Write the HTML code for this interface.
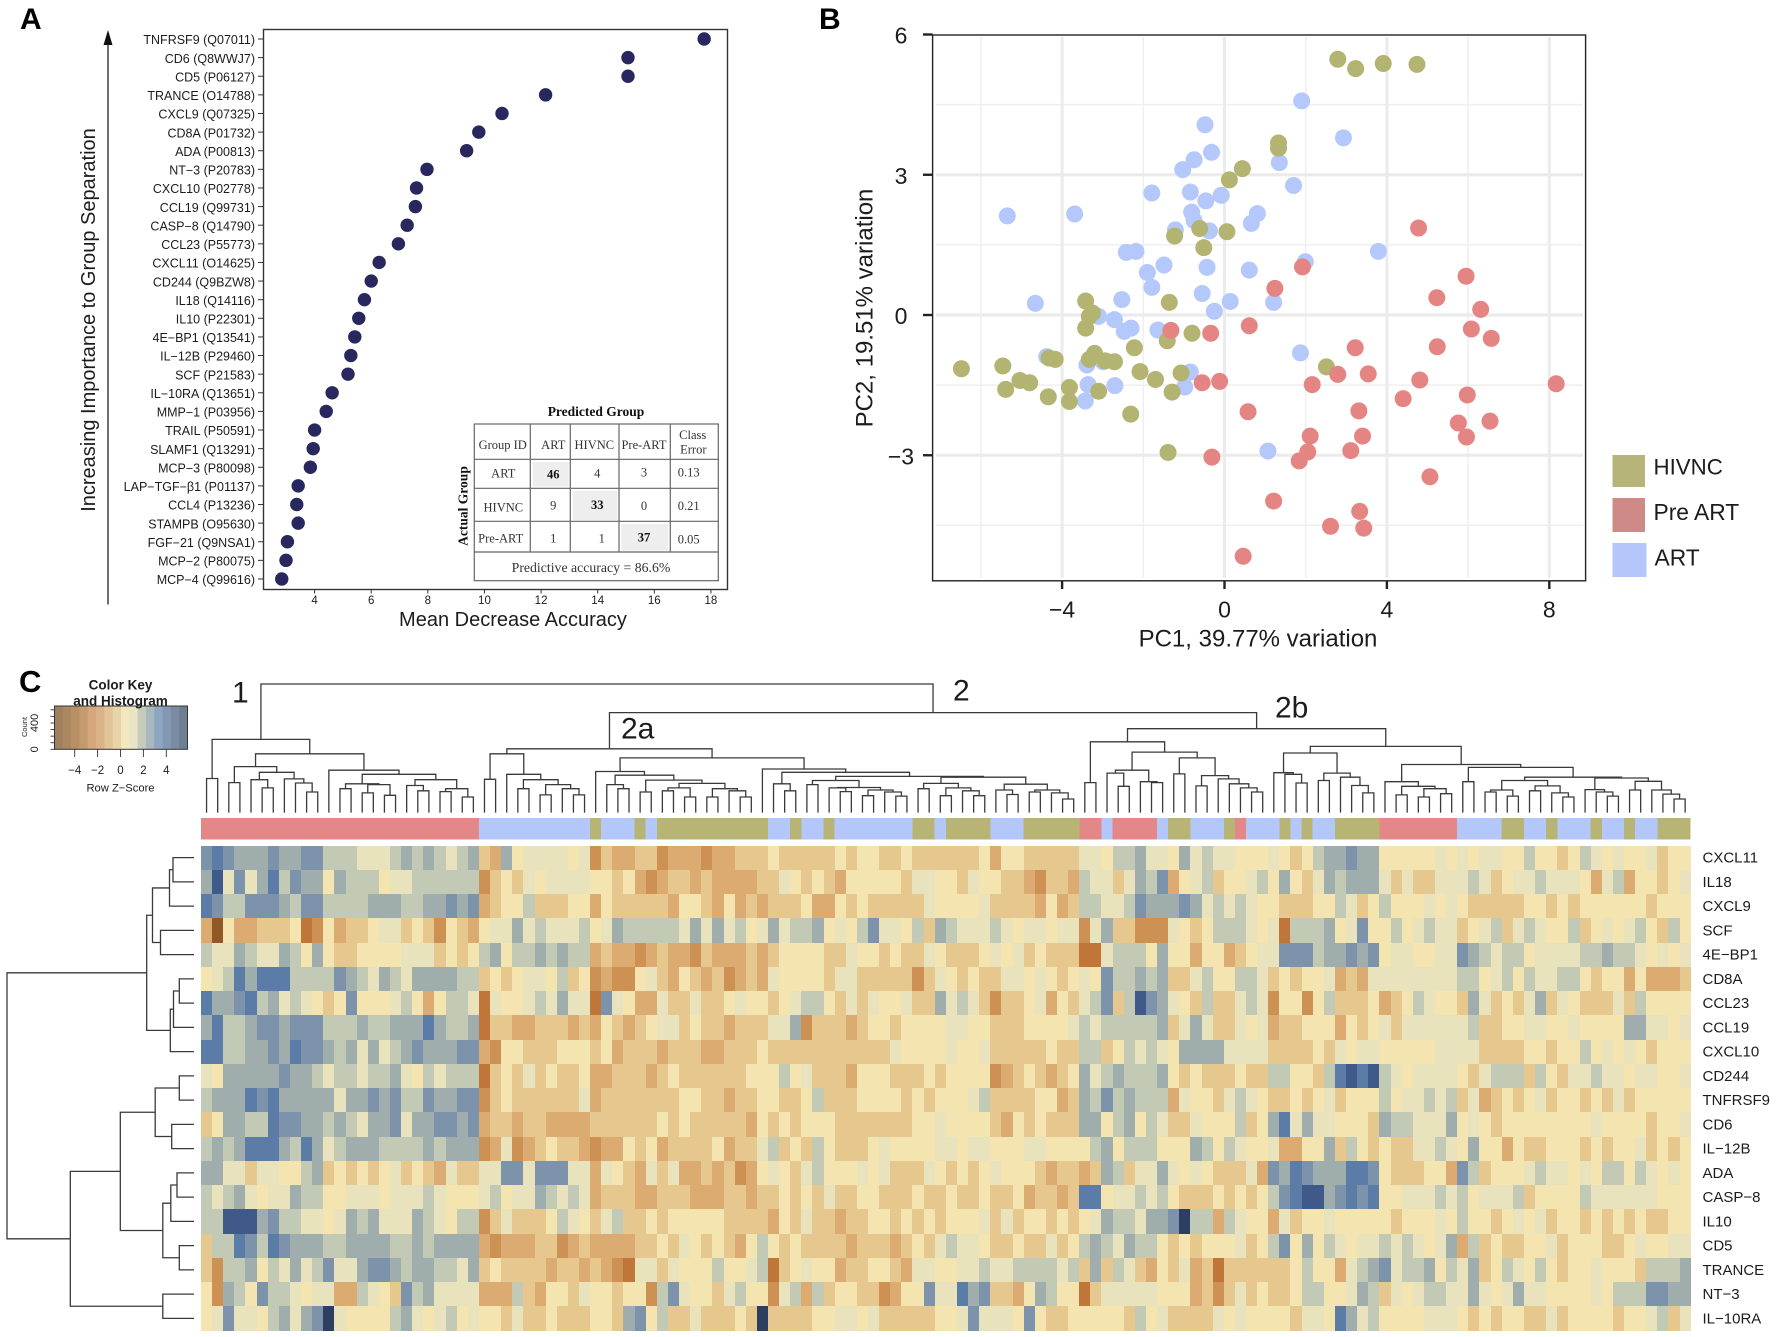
<!DOCTYPE html>
<html lang="en">
<head>
<meta charset="utf-8">
<title>Plasma proteomics: importance, PCA and heatmap</title>
<style>
html,body{margin:0;padding:0;background:#fff;width:1776px;height:1337px;overflow:hidden}
svg{display:block;position:absolute;left:0;top:0}
text{font-family:"Liberation Sans",sans-serif;fill:#1c1c1c}
.serif{font-family:"Liberation Serif",serif;fill:#333;font-size:12.5px;text-anchor:middle;dominant-baseline:central}
.serifb{font-family:"Liberation Serif",serif;fill:#111;font-weight:bold;font-size:13.5px;text-anchor:middle;dominant-baseline:central}
.panel{font-weight:bold;fill:#000}
.tl{stroke:#666;stroke-width:1.2;fill:none}
</style>
</head>
<body>
<svg id="figure" xmlns="http://www.w3.org/2000/svg" width="1776" height="1337" viewBox="0 0 1776 1337">
  <rect x="0" y="0" width="1776" height="1337" fill="#fff"/>

  <!-- Panel A -->
  <g id="panelA">
    <text class="panel" x="20" y="29" font-size="30">A</text>
    <line x1="108" y1="604.5" x2="108" y2="40" stroke="#222" stroke-width="1.3"/>
    <polygon points="108,30 103.5,45 112.5,45" fill="#111"/>
    <text transform="translate(89,320) rotate(-90)" text-anchor="middle" dominant-baseline="central" font-size="20">Increasing Importance to Group Separation</text>
    <text x="513" y="620" text-anchor="middle" dominant-baseline="central" font-size="20">Mean Decrease Accuracy</text>
    <rect x="263.5" y="29.5" width="464" height="560" fill="none" stroke="#333" stroke-width="1.4"/>
    <g id="aTicks"></g>
    <g id="aDots"></g>

    <g>
      <text class="serifb" x="596" y="411.7">Predicted Group</text>
      <text class="serifb" font-size="12.5" transform="translate(463,506) rotate(-90)">Actual Group</text>
      <rect x="532.7" y="462" width="36" height="24.7" fill="#eeeeee"/>
      <rect x="572.7" y="490.7" width="44.6" height="29.3" fill="#eeeeee"/>
      <rect x="621.3" y="524" width="47" height="26.7" fill="#eeeeee"/>
      <rect class="tl" x="474.3" y="424" width="244" height="156.7"/>
      <path class="tl" d="M474.3 459.3H718.3M474.3 488.3H718.3M474.3 521.3H718.3M474.3 552H718.3M530.3 424V552M570.3 424V552M619 424V552M670.3 424V552"/>
      <text class="serif" x="502.7" y="445">Group ID</text>
      <text class="serif" x="553.3" y="445">ART</text>
      <text class="serif" x="594.3" y="445">HIVNC</text>
      <text class="serif" x="644" y="445">Pre-ART</text>
      <text class="serif" x="692.7" y="435">Class</text>
      <text class="serif" x="693.3" y="449.3">Error</text>
      <text class="serif" x="503.3" y="473.3">ART</text>
      <text class="serif" x="553.3" y="474.3" font-weight="bold" style="fill:#111">46</text>
      <text class="serif" x="597.3" y="473.3">4</text>
      <text class="serif" x="644" y="472.3">3</text>
      <text class="serif" x="688.7" y="472.3">0.13</text>
      <text class="serif" x="503.3" y="507.3">HIVNC</text>
      <text class="serif" x="553.3" y="505.7">9</text>
      <text class="serif" x="597.3" y="505" font-weight="bold" style="fill:#111">33</text>
      <text class="serif" x="644" y="506">0</text>
      <text class="serif" x="688.7" y="506">0.21</text>
      <text class="serif" x="500.7" y="538.3">Pre-ART</text>
      <text class="serif" x="553.3" y="538.3">1</text>
      <text class="serif" x="601.7" y="538.3">1</text>
      <text class="serif" x="644" y="537.3" font-weight="bold" style="fill:#111">37</text>
      <text class="serif" x="688.7" y="539.3">0.05</text>
      <text class="serif" x="591" y="567.3" style="font-size:13.8px">Predictive accuracy = 86.6%</text>
    </g>
  </g>

  <!-- Panel B -->
  <g id="panelB">
    <text class="panel" x="819" y="29" font-size="30">B</text>
    <g id="bGrid"></g>
    <g id="bDots"></g>
    <rect x="932.6" y="35" width="653" height="545.8" fill="none" stroke="#222" stroke-width="1.4"/>
    <g id="bAxes"></g>
    <text x="1258" y="639" text-anchor="middle" dominant-baseline="central" font-size="24">PC1, 39.77% variation</text>
    <text transform="translate(865,308) rotate(-90)" text-anchor="middle" dominant-baseline="central" font-size="24">PC2, 19.51% variation</text>
    <g>
      <rect x="1612.5" y="455" width="32.5" height="32" fill="#b6b478"/>
      <text x="1653.5" y="467" dominant-baseline="central" font-size="22.3">HIVNC</text>
      <rect x="1612.5" y="498" width="32.5" height="34" fill="#cf8a87"/>
      <text x="1653.5" y="512" dominant-baseline="central" font-size="22.8">Pre ART</text>
      <rect x="1612.5" y="543" width="34" height="34" fill="#b5c6fa"/>
      <text x="1654.5" y="557.7" dominant-baseline="central" font-size="22.8">ART</text>
    </g>
  </g>

  <!-- Panel C -->
  <g id="panelC">
    <text class="panel" x="19" y="692" font-size="31">C</text>
    <g>
      <g id="keyStrips"></g>
      <rect x="54.5" y="706" width="133" height="43.3" fill="none" stroke="#333" stroke-width="1"/>
      <g id="keyAxes"></g>
      <text x="120.5" y="685" text-anchor="middle" dominant-baseline="central" font-size="13.5" font-weight="bold">Color Key</text>
      <text x="120.5" y="701" text-anchor="middle" dominant-baseline="central" font-size="13.5" font-weight="bold">and Histogram</text>
      <text transform="translate(24.5,727) rotate(-90)" text-anchor="middle" dominant-baseline="central" font-size="7.5">Count</text>
      <text x="120.5" y="788.7" text-anchor="middle" dominant-baseline="central" font-size="11.2">Row Z−Score</text>
    </g>
    <g id="topTree"></g>
    <g id="sideTree"></g>
    <g id="annot" shape-rendering="crispEdges"></g>
    <g id="heat" shape-rendering="crispEdges"></g>
    <g id="rowLabels"></g>
    <text x="232" y="693" dominant-baseline="central" font-size="30">1</text>
    <text x="953" y="691" dominant-baseline="central" font-size="30">2</text>
    <text x="621" y="729" dominant-baseline="central" font-size="30">2a</text>
    <text x="1275" y="708" dominant-baseline="central" font-size="30">2b</text>
  </g>
</svg>

<script>
/* ---------- Panel A data ---------- */
var proteinLabels = ["TNFRSF9 (Q07011)","CD6 (Q8WWJ7)","CD5 (P06127)","TRANCE (O14788)","CXCL9 (Q07325)","CD8A (P01732)","ADA (P00813)","NT−3 (P20783)","CXCL10 (P02778)","CCL19 (Q99731)","CASP−8 (Q14790)","CCL23 (P55773)","CXCL11 (O14625)","CD244 (Q9BZW8)","IL18 (Q14116)","IL10 (P22301)","4E−BP1 (Q13541)","IL−12B (P29460)","SCF (P21583)","IL−10RA (Q13651)","MMP−1 (P03956)","TRAIL (P50591)","SLAMF1 (Q13291)","MCP−3 (P80098)","LAP−TGF−β1 (P01137)","CCL4 (P13236)","STAMPB (O95630)","FGF−21 (Q9NSA1)","MCP−2 (P80075)","MCP−4 (Q99616)"];
var meanDecreaseAccuracy = [17.76,15.07,15.07,12.16,10.62,9.8,9.37,7.97,7.6,7.56,7.27,6.96,6.28,6.0,5.76,5.56,5.42,5.28,5.18,4.62,4.41,4.0,3.95,3.85,3.42,3.37,3.42,3.04,2.99,2.84];
var accuracyTicks = [4,6,8,10,12,14,16,18];

/* ---------- Panel B data ---------- */
var hivncPC1 = [2.79,3.23,3.91,4.74,1.33,1.33,0.44,0.12,-0.61,-1.23,0.06,-0.51,-1.36,-3.42,-3.25,-3.33,-3.42,-0.80,-1.41,-2.22,-3.20,-3.33,-4.32,-4.17,-2.94,-2.71,2.51,-6.48,-5.46,-5.04,-4.80,-5.39,-4.34,-3.82,-3.82,-3.10,-2.08,-1.70,-1.07,-1.29,-2.31,-1.39];
var hivncPC2 = [5.47,5.27,5.38,5.36,3.68,3.57,3.13,2.89,1.85,1.69,1.78,1.44,0.27,0.30,0.04,-0.03,-0.28,-0.39,-0.55,-0.70,-0.82,-0.95,-0.92,-0.95,-0.98,-1.00,-1.11,-1.15,-1.09,-1.40,-1.45,-1.59,-1.75,-1.55,-1.85,-1.63,-1.21,-1.38,-1.24,-1.65,-2.12,-2.94];
var artPC1 = [1.90,-0.48,2.93,-0.32,-0.75,-1.03,1.35,1.70,-1.79,-0.84,-0.46,-0.08,-5.35,-3.69,-0.81,-0.75,0.81,0.66,-0.37,-1.21,-2.42,-2.18,-1.49,-1.90,-0.43,0.61,1.99,3.79,-1.79,-4.66,-2.53,-0.55,0.14,1.21,-0.25,-3.10,-2.71,-2.30,-2.47,-1.64,1.87,-4.38,-3.39,-2.99,-0.84,-3.36,-2.70,-0.98,-3.43,1.07];
var artPC2 = [4.58,4.07,3.79,3.48,3.32,3.11,3.26,2.77,2.61,2.63,2.44,2.56,2.12,2.16,2.20,2.02,2.17,1.96,1.80,1.82,1.34,1.36,1.07,0.91,1.02,0.96,1.14,1.36,0.59,0.25,0.33,0.46,0.29,0.27,0.08,-0.03,-0.10,-0.28,-0.35,-0.32,-0.81,-0.89,-1.07,-1.00,-1.22,-1.49,-1.51,-1.54,-1.84,-2.91];
var preArtPC1 = [4.78,1.92,5.95,1.24,5.23,6.31,0.61,-1.32,-0.34,6.08,6.57,5.24,3.22,2.79,3.54,4.81,-0.55,-0.12,2.16,8.17,5.98,4.40,0.58,3.31,6.54,5.76,2.11,3.40,5.96,2.05,3.11,1.84,-0.31,5.06,1.21,3.33,2.61,3.43,0.46];
var preArtPC2 = [1.86,1.03,0.83,0.57,0.37,0.12,-0.23,-0.33,-0.39,-0.30,-0.50,-0.68,-0.70,-1.27,-1.26,-1.39,-1.45,-1.42,-1.49,-1.47,-1.71,-1.79,-2.07,-2.05,-2.27,-2.31,-2.59,-2.59,-2.61,-2.93,-2.90,-3.12,-3.04,-3.46,-3.98,-4.20,-4.52,-4.56,-5.16];
var pc1Ticks = [-4,0,4,8];
var pc2Ticks = [6,3,0,-3];
var pc1MinorGrid = [-6,-2,2,6];
var pc2MinorGrid = [4.5,1.5,-1.5,-4.5];
var pc1MajorGrid = [-4,0,4,8];
var pc2MajorGrid = [3,0,-3];

/* ---------- Panel C data ---------- */
var keyCounts = [0,100,200,300,400,500,600];
var keyCountLabels = [0,400];
var keyZTicks = [-4,-2,0,2,4];
var annotationRunGroups = ["P","A","H","A","H","A","H","A","H","A","H","A","H","A","H","A","H","P","A","P","A","H","A","H","P","A","H","A","H","A","H","P","A","H","A","H","A","H","A","H","A","H"];
var annotationRunLengths = [25,10,1,3,1,1,10,2,1,2,1,7,2,1,4,3,5,2,1,4,1,2,3,1,1,3,1,1,1,2,4,7,4,2,2,1,3,1,2,1,2,3];

var zCXCL11 = [4,5,4,3,3,3,4,3,3,4,4,2,2,2,1,1,1,2,3,2,3,2,1,2,3,-1,-2,3,0,1,1,1,1,0,1,-3,-1,-2,-2,-1,-1,-3,-2,-2,-2,-3,-2,-2,-1,-1,-1,0,-1,-1,-1,-1,-1,0,-1,0,0,-1,-1,0,-1,-1,-1,-1,-1,-1,0,-2,0,0,-1,-1,-1,-1,-1,1,1,0,2,2,3,1,1,0,3,1,2,1,1,0,0,0,1,0,-1,0,2,3,3,4,3,3,0,0,0,0,0,1,0,1,0,1,1,0,0,2,0,0,-1,0,2,1,0,1,0,0,1,-1,0,0];
var zIL18 = [3,6,1,4,1,3,5,2,4,3,3,0,3,2,2,2,0,1,1,2,2,2,2,2,2,-3,-1,0,-1,1,0,1,1,1,1,0,0,-1,0,-2,-3,-2,-1,-1,-2,-1,-2,-2,-2,-2,-1,-1,1,0,-1,0,-1,-2,0,0,0,0,0,-1,1,1,0,0,-1,1,0,0,-1,-1,-2,-3,-1,-1,-2,2,1,1,-1,1,3,2,4,-2,0,1,2,-1,0,0,1,2,0,3,0,-1,1,3,2,3,3,3,1,-1,1,-1,-1,1,1,1,2,1,-1,0,1,1,2,1,1,1,0,-2,1,2,-2,0,0,-1,0,1];
var zCXCL9 = [5,4,2,2,4,4,4,3,2,4,4,2,2,2,2,3,3,3,2,2,3,3,4,3,4,-2,-1,0,0,2,-1,-1,-1,0,0,-2,0,-1,-1,-1,-1,-1,-2,0,0,-1,-2,0,-2,-1,-2,-1,-1,-1,0,-2,-2,0,-1,0,-1,-1,-1,-1,-1,1,0,0,0,0,1,-1,-1,-1,-1,-2,0,-2,-1,2,2,1,1,2,4,3,3,3,4,3,1,2,1,2,1,0,0,-1,-1,-1,0,0,2,1,-1,0,2,0,0,0,1,0,1,0,-1,-1,-1,-1,-1,0,0,-1,0,-1,0,0,0,0,0,0,-1,0,0,0];
var zSCF = [-2,-5,0,-2,-2,-1,-1,-1,0,-4,-3,0,-2,-1,-1,0,1,1,-1,0,-1,-3,0,-1,-2,0,1,1,3,1,2,1,1,1,2,0,1,3,2,2,2,2,2,1,3,1,3,1,2,0,1,3,1,2,2,3,0,1,0,2,4,1,1,0,2,-1,3,2,1,1,1,2,1,0,1,1,0,1,1,-3,1,3,-1,-1,-3,-3,-3,1,0,-1,0,2,2,2,1,0,1,-4,2,2,2,3,0,1,4,0,0,2,0,1,2,1,1,-1,0,1,2,-1,1,2,1,0,0,2,-1,0,1,0,1,2,0,-1,2,0];
var z4EBP1 = [2,1,1,3,2,1,1,3,2,0,3,0,-1,-1,0,0,0,0,1,1,1,-1,0,-1,0,2,3,0,2,2,3,2,3,2,2,-2,-1,-2,-2,-3,-2,-1,-2,-2,-3,-1,-2,-2,-2,-1,-2,-1,0,0,0,0,-1,-1,1,0,0,-1,0,-1,-1,1,0,-1,-1,-1,0,1,0,1,-1,0,-1,-1,-1,-4,-4,1,2,2,2,0,3,0,0,-2,0,0,-2,-1,0,1,1,4,4,4,2,3,3,4,3,4,0,1,1,0,0,1,1,4,3,2,1,2,2,0,1,1,1,1,2,2,3,2,2,1,0,1,0,1];
var zCD8A = [0,1,2,5,3,5,5,5,2,2,2,2,4,3,2,1,3,2,1,3,3,3,3,2,2,-1,0,-1,0,1,1,0,2,-1,0,-3,-2,-3,-3,0,1,-1,-2,0,-1,-2,-1,-3,-2,-1,-2,1,0,0,0,0,-1,1,1,-1,-1,-1,-1,-1,-3,-1,1,0,-1,0,-1,-1,1,1,0,1,0,-1,0,1,0,4,2,2,3,2,3,-1,-1,1,2,0,0,2,2,1,-1,0,-1,0,0,1,-2,-1,-2,1,1,1,1,1,1,1,1,2,2,0,1,2,0,2,1,1,2,2,0,-1,0,0,-2,0,-2,-2,-2,-1];
var zCCL23 = [5,3,3,4,5,2,3,1,2,1,0,-1,0,4,0,0,0,1,2,0,-2,0,2,2,1,-4,1,0,0,1,2,1,3,1,1,-4,4,1,0,-2,-2,1,-1,-1,1,-1,-1,0,1,0,0,-1,0,1,2,2,0,-1,1,-1,1,0,0,1,-1,-1,3,1,2,1,-1,-3,-1,-1,0,1,-2,0,-1,1,2,4,-1,2,6,4,3,1,0,-1,2,-1,-1,1,2,1,-3,0,0,-3,0,2,-1,-1,-1,0,-2,-1,0,2,1,0,0,-1,3,1,-1,0,-1,1,3,-1,1,0,-1,-1,-1,1,-1,2,0,0,0,0];
var zCCL19 = [3,5,2,2,3,4,4,3,4,4,4,2,2,2,3,2,2,3,3,3,5,3,2,2,3,-4,-1,-1,-2,-2,-1,-1,-1,-2,-1,-2,0,-1,-2,-1,0,1,1,-1,0,-1,-1,-2,-1,-1,-1,1,1,3,-3,-1,-1,-1,-2,-1,0,0,-1,0,0,0,0,1,1,0,0,-1,-1,-1,0,0,0,0,1,2,1,2,2,2,2,2,3,-1,1,3,1,-1,-1,1,0,1,-2,-1,-1,0,0,0,-2,0,-1,0,1,-1,1,1,1,1,1,1,2,-1,-1,0,0,1,1,0,0,1,0,0,0,0,3,3,1,1,0,1];
var zCXCL10 = [5,5,2,2,3,3,4,3,5,4,4,3,2,3,1,3,1,2,3,4,3,3,3,4,4,-2,-3,0,0,-1,-1,-1,0,0,0,-1,0,-2,-1,-1,-1,-2,-1,-1,-1,-2,-2,-1,-1,-1,0,-1,-1,-1,-1,-1,-1,-1,-1,-1,-1,-1,1,0,0,0,0,1,0,0,1,-1,-1,-1,-1,-1,0,-1,-1,2,2,-1,0,2,1,2,1,0,3,3,3,3,1,1,1,1,-1,-1,-1,-1,0,-1,1,0,1,1,0,0,0,0,0,1,1,1,1,-1,-1,-1,-1,0,0,-1,0,0,2,0,1,0,1,0,-1,0,0,0];
var zCD244 = [1,0,3,3,3,3,3,4,3,3,2,1,2,2,1,2,2,3,1,0,2,1,2,2,2,-4,-1,0,-1,1,-1,0,-1,-1,0,-2,-2,-1,-1,-1,-2,-1,0,-1,-1,-1,-1,-1,-1,0,0,0,2,0,1,-1,-1,-1,-2,0,0,0,-1,-1,-1,0,-1,0,0,0,0,-3,-2,-1,0,-1,-2,-1,0,3,1,2,3,2,2,2,3,0,-1,0,-1,-1,-1,0,-1,-1,2,2,0,0,-1,2,5,6,5,6,2,1,0,1,1,1,1,0,-1,1,2,2,2,-1,2,0,-1,1,1,2,1,1,0,1,1,0,0,1];
var zTNFRSF9 = [2,3,3,3,5,4,5,3,3,3,3,3,1,3,3,4,3,4,2,2,4,3,3,4,4,-3,-1,0,-1,-1,-1,-1,-1,-1,1,-2,-1,-1,-1,-1,-1,-1,-1,0,0,-1,-1,-2,-1,-1,0,0,-1,-1,0,2,-1,-1,-1,0,0,0,0,-1,0,-1,0,0,0,1,2,-1,-1,-1,-1,0,0,-2,-1,3,2,4,2,3,2,2,2,-2,1,0,0,-1,1,2,1,0,-1,-1,0,-1,0,1,-1,0,0,0,2,0,1,1,2,1,2,-1,1,-2,-1,0,-1,0,1,-1,0,0,-1,0,-1,1,-1,0,0,0,0,0];
var zCD6 = [-1,0,3,3,2,2,5,4,4,3,3,2,3,2,1,3,3,4,1,3,3,4,4,3,4,-2,-1,-1,-2,-1,-1,-2,-2,-2,-2,-1,-1,-1,-1,-1,-1,0,-1,0,-1,-1,-1,-1,-1,-2,0,-1,0,-1,0,0,0,-1,-1,-1,-1,-1,-1,-1,0,0,1,0,0,0,0,-1,-2,0,-1,0,-1,-1,-1,3,3,0,2,3,0,2,1,-1,-1,1,0,0,0,2,-1,0,3,5,1,3,1,1,0,0,0,-1,3,2,2,1,1,1,3,0,1,0,-1,0,0,0,0,0,0,0,0,1,0,0,0,0,-1,0,0,1];
var zIL12B = [2,3,2,3,5,5,5,3,2,5,3,1,2,3,3,3,2,2,2,2,3,2,3,3,3,-3,-2,1,-3,-2,-1,0,-1,-1,-2,-3,-2,-2,0,-1,0,-2,-1,-1,-1,-1,0,-2,-1,-1,1,2,-1,0,-1,2,0,-1,-1,-1,0,1,0,0,0,0,1,1,0,1,1,0,0,0,1,1,0,0,0,0,2,3,0,2,2,2,0,0,0,3,2,0,2,1,0,0,1,-2,-2,0,0,3,-1,2,0,-1,0,-1,-1,1,1,2,1,0,3,0,0,-2,0,-1,-1,0,0,0,-1,0,-1,0,0,1,-1,0,-1,0];
var zADA = [3,3,1,1,-1,1,1,0,0,2,3,-1,0,-1,0,-1,0,1,-1,0,-1,-2,1,-1,-1,1,1,4,4,1,4,4,4,1,1,-2,1,0,-1,-2,1,-1,1,-2,-2,-1,-2,-1,-3,-2,0,1,0,-1,1,2,0,0,0,1,0,1,-1,-1,-1,1,0,-1,0,-1,0,1,0,0,0,-1,-2,-1,-1,-2,-1,3,2,-1,1,1,3,1,0,1,0,-1,-1,-1,1,-2,4,3,5,4,3,3,3,5,5,4,0,-1,-1,-1,0,0,-2,4,2,-1,0,0,0,1,2,1,1,0,1,0,2,2,0,2,1,0,1,0];
var zCASP8 = [2,1,2,3,1,0,1,1,3,2,2,0,0,1,1,1,0,1,1,1,2,1,0,0,0,1,2,0,1,1,3,2,1,2,1,-2,-1,-1,-1,-2,-2,-1,-1,-1,-2,-2,-2,-1,-1,-2,-1,-1,0,-1,0,-1,1,-1,-1,0,0,-1,-1,-1,0,-1,-1,0,-1,-1,0,-1,-1,0,-2,-1,-1,-2,-1,5,5,0,1,1,2,1,2,0,-1,-1,-1,0,-1,0,-1,0,2,4,5,6,6,3,4,5,4,5,0,0,1,1,1,2,1,2,0,1,1,1,2,-1,0,0,0,0,2,1,1,1,1,1,1,0,0,0];
var zIL10 = [2,2,6,6,6,3,4,2,2,1,1,0,1,3,2,3,1,1,1,3,2,1,0,2,2,-3,-1,1,-1,-1,-1,0,2,1,0,-1,1,2,-1,-1,0,-1,0,0,0,0,0,-1,-1,-1,-1,-2,0,-1,1,-1,-1,-2,-1,-1,0,0,-1,0,-1,0,-1,0,0,0,1,-1,1,-1,0,0,-1,0,-1,0,1,3,2,2,1,3,3,4,7,2,2,-2,2,1,0,0,-2,1,-1,0,0,1,0,0,0,0,0,-1,0,0,0,1,0,2,0,0,-1,0,1,0,1,-1,0,0,-1,0,-1,0,-1,0,-1,-1,0,0];
var zCD5 = [-1,2,2,5,4,2,5,4,3,3,3,2,2,3,3,3,3,2,2,3,2,3,3,3,3,-2,-3,-2,-2,-2,-1,-1,-3,-2,-1,-2,-2,-2,-2,-1,-1,0,-1,1,0,-1,0,-1,-2,0,2,0,-1,0,-1,-1,-1,-1,-2,-1,-1,-1,-2,-1,0,-1,1,2,1,1,0,-1,-1,0,-1,-1,1,-1,0,2,3,2,1,3,2,2,0,-1,0,-1,0,0,0,1,-1,0,2,4,0,3,0,2,1,0,1,1,2,1,2,1,0,1,3,-2,2,-1,0,-1,-1,0,0,1,-1,0,0,0,-1,-1,0,1,0,0,1,1];
var zTRANCE = [-1,-3,2,2,3,0,2,1,3,1,2,4,1,1,3,4,4,3,2,3,3,2,2,1,3,-1,0,-1,-1,-1,-1,-2,-1,-1,-2,-1,-2,-3,-4,1,1,-1,1,0,0,0,2,0,0,1,2,-4,-1,0,1,0,0,-2,-1,-1,0,0,-1,-2,1,1,0,0,1,1,2,1,1,2,2,2,2,1,2,-1,3,-1,2,1,-1,-2,0,-1,1,-2,-1,-4,-1,-1,-1,-1,-1,-1,0,2,0,0,-2,1,2,3,4,1,2,2,3,0,2,1,3,-1,0,2,1,0,2,0,-1,0,0,1,0,0,0,-1,2,2,2,3];
var zNT3 = [0,-3,3,2,0,4,2,2,1,0,1,1,-2,-2,2,1,0,-1,4,2,3,1,1,1,1,-2,-2,-2,2,-1,-2,0,0,-1,1,0,0,-1,0,0,-3,2,4,1,0,0,-1,1,2,0,0,-3,1,2,-2,2,-1,0,0,-1,-1,-3,-2,0,0,4,1,1,5,3,4,-1,-1,-2,0,3,2,0,0,-4,-1,1,1,1,1,1,0,0,0,-2,-1,-3,-1,1,-1,0,-1,-1,0,2,2,0,0,1,3,2,-1,1,0,1,2,2,1,1,3,1,0,1,3,1,1,0,0,0,0,1,0,2,2,2,4,4,3,3];
var zIL10RA = [0,1,4,1,1,0,2,3,1,3,4,7,1,0,0,0,0,2,3,1,0,1,2,0,1,0,0,-1,1,-1,-1,0,-1,-1,-1,0,0,-1,3,4,0,2,-1,-1,1,-1,-1,-1,0,-1,7,-1,-1,-1,-1,0,0,1,1,0,1,-1,-1,-1,-1,-1,0,0,1,4,1,1,1,0,4,0,-1,-1,0,0,0,0,0,-1,2,0,1,-1,-1,-1,-1,1,0,1,0,0,0,0,-1,1,1,0,5,3,1,2,0,0,0,0,1,1,1,0,-1,0,-1,0,0,-1,-1,1,-1,0,0,0,0,-1,0,0,1,2,-1,1];

var heatLabels = ["CXCL11","IL18","CXCL9","SCF","4E−BP1","CD8A","CCL23","CCL19","CXCL10","CD244","TNFRSF9","CD6","IL−12B","ADA","CASP−8","IL10","CD5","TRANCE","NT−3","IL−10RA"];
var heatRows = [zCXCL11,zIL18,zCXCL9,zSCF,z4EBP1,zCD8A,zCCL23,zCCL19,zCXCL10,zCD244,zTNFRSF9,zCD6,zIL12B,zADA,zCASP8,zIL10,zCD5,zTRANCE,zNT3,zIL10RA];

/* dendrograms: [mergeHeight, left, right], 0 = leaf */
var cluster1Tree = [73.2,[34.1,0,0],[58.8,[46,[30,0,0],[40.3,[32.9,0,[24.7,0,0]],[33.7,0,[29.6,0,[20.6,0,0]]]]],[42.4,0,[38.3,[28.8,[23.9,0,0],[28,[19.7,0,0],[17.3,0,0]]],[32.9,[27.1,0,[21.8,0,0]],[23.9,[21,0,0],[15.6,0,0]]]]]]];
var cluster2aTree = [63.8,[58.8,[33.3,0,0],[38.3,0,[32.9,[23.9,0,0],[28,[17.7,0,0],[23.9,0,[17.7,0,0]]]]]],[54.7,[41.1,0,[37.4,[28,0,[23.9,0,0]],[32.5,[20.6,0,0],[29.2,[24.7,[21.8,0,0],[15.6,0,0]],[23.9,[15.6,0,0],[21.8,0,[15.6,0,0]]]]]]],[43.6,0,[40.3,[28.8,0,[21.8,0,0]],[36.2,[32.1,[28,0,0],[25.1,[24.7,0,[21,0,0]],[22.6,[16.9,0,0],[20.6,0,[16.5,0,0]]]]],[35.4,[29.2,[23.9,0,0],[24.7,[16.9,0,0],[21.8,0,[16.9,0,0]]]],[28.4,[22.6,0,[18.1,0,0]],[22.6,[20.6,0,0],[19.7,0,[13.6,0,0]]]]]]]]]];
var cluster2bTree = [83.9,[70.8,[30,0,0],[60.5,[42.4,[39.5,0,[26.3,0,0]],[30.9,0,[30,0,0]]],[54.7,[38.7,0,0],[37,[26.7,0,0],[33.7,0,[28.8,0,[24.7,0,[20.6,0,0]]]]]]]],[66.2,[59.6,[39.9,0,[38.3,0,[29.6,0,0]]],[39.5,[32.1,0,0],[35.4,0,[27.1,0,[19.7,0,0]]]]],[48.1,[30.9,0,[26.3,[17.7,0,0],[23.9,[15.6,0,0],[18.9,0,0]]]],[45.2,[30.9,0,0],[35.4,[32.1,[22.6,[20.6,0,0],[16.5,0,0]],[26.7,[21.8,0,0],[19.7,0,[15.6,0,0]]]],[34.6,[23,0,[20.6,0,[16.5,0,0]]],[31.3,[22.6,0,0],[22.6,0,[18.5,0,[13.6,0,0]]]]]]]]]];
var columnTree = [128.6,cluster1Tree,[100,cluster2aTree,cluster2bTree]];
var rowTree = [187,[47.3,[41.5,[24.5,[21,0,0],0],[33.5,0,0]],[23.7,[20.5,[14.7,0,0],0],0]],[123.7,[73.7,[38.8,[14.7,0,0],[22.3,0,0]],[31.2,[23.2,[17,0,0],0],[14.7,0,0]]],[31.2,0,0]]];

/* ---------- helpers & scales ---------- */
var SVGNS = "http://www.w3.org/2000/svg";
function mk(tag, parent, attrs, txt){
  var n = document.createElementNS(SVGNS, tag);
  for (var k in attrs) n.setAttribute(k, attrs[k]);
  if (txt !== undefined) n.textContent = txt;
  parent.appendChild(n);
  return n;
}
function byId(i){ return document.getElementById(i); }
function minus(v){ return String(v).replace("-", "−"); }

function xA(v){ return 314.6 + (v - 4) * 28.31; }
function yA(i){ return 39 + i * 18.62; }
function xB(v){ return 1224.5 + v * 40.6; }
function yB(v){ return 315 - v * 46.75; }

var heatLeft = 201, heatRight = 1690.7, heatTop = 845.5, heatBottom = 1330.5;
var colCount = 134;
var cellW = (heatRight - heatLeft) / colCount;
var cellH = (heatBottom - heatTop) / heatRows.length;
function xCol(i){ return heatLeft + i * cellW; }
function yRow(i){ return heatTop + i * cellH; }
var treeBaseY = 812.6, treeBaseX = 194;

var levelColors = {"-5":"#8f5a28","-4":"#bf7638","-3":"#cc9153","-2":"#dbab72","-1":"#e6c88f","0":"#f4e4b0","1":"#e8e3bc","2":"#c2c9b5","3":"#9fadac","4":"#7d93ab","5":"#5c7ca8","6":"#3f5a88","7":"#2d3f60"};
function levelColor(v){
  var k = Math.max(-5, Math.min(7, Math.round(v)));
  return levelColors[String(k)];
}
var groupColors = {P:"#e48788",A:"#b3c7fa",H:"#b7b474"};
var keyColors = ["#a0805f","#ab8862","#b79066","#c49a6f","#d4a87c","#d9b387","#e1c498","#e9d3a8","#f3e7c0","#e9e4c6","#c5ccbc","#a9b8bd","#8fa6c0","#8398b2","#7a8ca3","#6f7f92"];

/* ---------- Panel A ---------- */
(function(){
  var axes = byId("aTicks"), dots = byId("aDots");
  proteinLabels.forEach(function(lab, i){
    var t = mk("line", axes, {x1:258, x2:263, y1:yA(i), y2:yA(i), stroke:"#333", "stroke-width":1});
    
    
    var l = mk("text", axes, {x:255, y:yA(i) + 1.2, "text-anchor":"end", "dominant-baseline":"central", "font-size":12.5}, lab);
    
    
    var c = mk("circle", dots, {cx:xA(meanDecreaseAccuracy[i]), cy:yA(i), r:6.7, fill:"#28285f"});
    
    
  });
  accuracyTicks.forEach(function(v){
    var t = mk("line", axes, {x1:xA(v), x2:xA(v), y1:589.5, y2:593.5, stroke:"#333", "stroke-width":1});
    
    
    var l = mk("text", axes, {x:xA(v), y:601, "text-anchor":"middle", "dominant-baseline":"central", "font-size":11.5}, String(v));
    
    
  });
})();

/* ---------- Panel B ---------- */
(function(){
  var grid = byId("bGrid"), dots = byId("bDots"), axes = byId("bAxes");
  function vLine(v, w, col){
    var n = mk("line", grid, {x1:xB(v), x2:xB(v), y1:37, y2:578, stroke:col, "stroke-width":w});
    
    
  }
  function hLine(v, w, col){
    var n = mk("line", grid, {x1:936, x2:1583, y1:yB(v), y2:yB(v), stroke:col, "stroke-width":w});
    
    
  }
  pc1MinorGrid.forEach(function(v){ vLine(v, 1.5, "#efefef"); });
  pc2MinorGrid.forEach(function(v){ hLine(v, 1.5, "#efefef"); });
  pc1MajorGrid.forEach(function(v){ vLine(v, 3, "#ebebeb"); });
  pc2MajorGrid.forEach(function(v){ hLine(v, 3.2, "#ebebeb"); });

  function series(xs, ys, col, nm){
    xs.forEach(function(x, i){
      var c = mk("circle", dots, {cx:xB(x), cy:yB(ys[i]), r:8.5, fill:col});
      
      
    });
  }
  series(artPC1, artPC2, "#b4c8fb", "pca-point-art");
  series(hivncPC1, hivncPC2, "#b3b372", "pca-point-hivnc");
  series(preArtPC1, preArtPC2, "#e48583", "pca-point-pre-art");

  pc1Ticks.forEach(function(v){
    var t = mk("line", axes, {x1:xB(v), x2:xB(v), y1:581, y2:589, stroke:"#222", "stroke-width":2.4});
    
    
    var l = mk("text", axes, {x:xB(v), y:609.4, "text-anchor":"middle", "dominant-baseline":"central", "font-size":23, fill:"#333"}, minus(v));
    
    
  });
  pc2Ticks.forEach(function(v){
    var t = mk("line", axes, {x1:923, x2:932.6, y1:yB(v), y2:yB(v), stroke:"#222", "stroke-width":2.4});
    
    
    var l = mk("text", axes, {x:901, y:yB(v) + 1, "text-anchor":"middle", "dominant-baseline":"central", "font-size":23, fill:"#333"}, minus(v));
    
    
  });
})();

/* ---------- Panel C: colour key ---------- */
(function(){
  var strips = byId("keyStrips"), axes = byId("keyAxes");
  var kL = 54.5, kW = 133, kT = 706, kB = 749.3;
  var w = kW / keyColors.length;
  keyColors.forEach(function(c, i){
    var r = mk("rect", strips, {x:kL + i * w, y:kT, width:w + 0.4, height:kB - kT, fill:c});
    
    
  });
  function keyX(z){ return 120.5 + z * 11.45; }
  function keyY(c){ return kB - c * 0.0658; }
  keyCounts.forEach(function(c){
    var t = mk("line", axes, {x1:50.5, x2:54.5, y1:keyY(c), y2:keyY(c), stroke:"#333", "stroke-width":0.9});
    
    
  });
  keyCountLabels.forEach(function(c){
    var l = mk("text", axes, {x:0, y:0, transform:"translate(35," + keyY(c) + ") rotate(-90)", "text-anchor":"middle", "dominant-baseline":"central", "font-size":11}, String(c));
    
    
  });
  keyZTicks.forEach(function(z){
    var t = mk("line", axes, {x1:keyX(z), x2:keyX(z), y1:749.3, y2:757, stroke:"#333", "stroke-width":0.9});
    
    
    var l = mk("text", axes, {x:keyX(z), y:771, "text-anchor":"middle", "dominant-baseline":"central", "font-size":11.5}, minus(z));
    
    
  });
})();

/* ---------- Panel C: annotation bar, heatmap, labels ---------- */
(function(){
  var annot = byId("annot"), heat = byId("heat"), labels = byId("rowLabels");
  var col = 0;
  annotationRunLengths.forEach(function(len, i){
    var r = mk("rect", annot, {x:xCol(col), y:818, width:len * cellW, height:21.7, fill:groupColors[annotationRunGroups[i]]});
    
    
    col += len;
  });
  heatRows.forEach(function(row, r){
    row.forEach(function(v, c){
      var x0 = Math.round(xCol(c)), x1 = Math.round(xCol(c + 1));
      var y0 = Math.round(yRow(r)), y1 = Math.round(yRow(r + 1));
      var cell = mk("rect", heat, {x:x0, y:y0, width:x1 - x0, height:y1 - y0, fill:levelColor(v)});
      
      
    });
    var l = mk("text", labels, {x:1702.5, y:yRow(r) + cellH / 2 + 0.5, "dominant-baseline":"central", "font-size":15}, heatLabels[r]);
    
    
  });
})();

/* ---------- Panel C: dendrograms ---------- */
(function(){
  var topG = byId("topTree"), sideG = byId("sideTree");
  var leaf = 0;
  function drawTop(node){
    if (node === 0){ var i = leaf++; return {pos:xCol(i) + cellW / 2, h:0}; }
    var a = drawTop(node[1]), b = drawTop(node[2]), y = treeBaseY - node[0];
    var d = "M" + a.pos + " " + (treeBaseY - a.h) + "V" + y + "H" + b.pos + "V" + (treeBaseY - b.h);
    var p = mk("path", topG, {d:d, fill:"none", stroke:"#3a3a3a", "stroke-width":1.3});
    
    
    return {pos:(a.pos + b.pos) / 2, h:node[0]};
  }
  drawTop(columnTree);
  leaf = 0;
  function drawSide(node){
    if (node === 0){ var i = leaf++; return {pos:yRow(i) + cellH / 2, h:0}; }
    var a = drawSide(node[1]), b = drawSide(node[2]), x = treeBaseX - node[0];
    var d = "M" + (treeBaseX - a.h) + " " + a.pos + "H" + x + "V" + b.pos + "H" + (treeBaseX - b.h);
    var p = mk("path", sideG, {d:d, fill:"none", stroke:"#3a3a3a", "stroke-width":1.3});
    
    
    return {pos:(a.pos + b.pos) / 2, h:node[0]};
  }
  drawSide(rowTree);
})();
</script>
</body>
</html>
